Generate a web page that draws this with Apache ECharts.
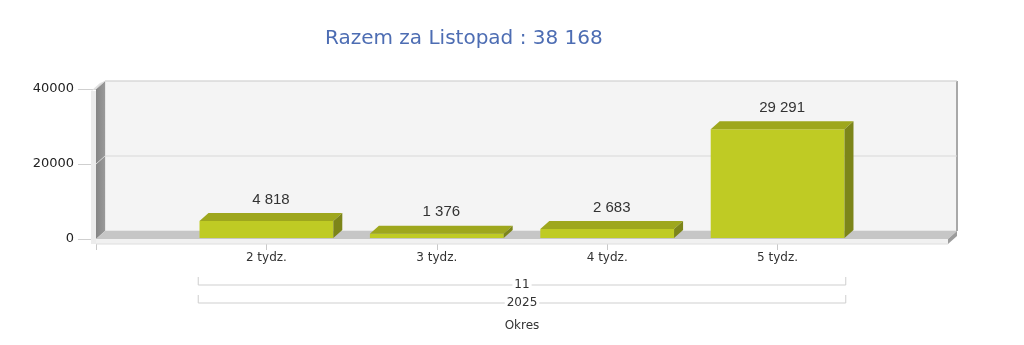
<!DOCTYPE html>
<html>
<head>
<meta charset="utf-8">
<script src="https://cdn.jsdelivr.net/npm/echarts@6/dist/echarts.min.js"></script>
<style>html,body{margin:0;padding:0;background:#fff}#c{width:1024px;height:345px}</style>
</head>
<body>
<div id="c"></div>
<script>
const titleText = 'Razem za Listopad : 38 168';
const categories = ['2 tydz.', '3 tydz.', '4 tydz.', '5 tydz.'];
const values = [4818, 1376, 2683, 29291];
const yMin = 0, yMax = 40000, yInterval = 20000;
const groupLevels = ['11', '2025'];
const axisTitle = 'Okres';

const DX = 9, DY = -8;
const xCats = [''].concat(categories, ['']);
const fmt = v => String(v).replace(/\B(?=(\d{3})+(?!\d))/g, ' ');
const gridTicks = [];
for (let v = yMin + yInterval; v <= yMax; v += yInterval) gridTicks.push(v);

const chart = echarts.init(document.getElementById('c'));

function renderFrame(params, api) {
  const p0 = api.coord([0, yMin]);
  const p5 = api.coord([xCats.length - 1, yMin]);
  const pt = api.coord([0, yMax]);
  const x0 = p0[0], x1 = p5[0], y0 = p0[1], yt = pt[1];
  const c = [];
  // back wall
  c.push({type: 'rect', shape: {x: x0 + DX, y: yt + DY, width: x1 - x0, height: y0 - yt},
    style: {fill: '#f4f4f4', stroke: '#dadada', lineWidth: 1}});
  c.push({type: 'line', shape: {x1: x1 + DX, y1: yt + DY, x2: x1 + DX, y2: y0 + DY},
    style: {stroke: '#a8a8a8', lineWidth: 2}});
  // left wall outer band
  c.push({type: 'polygon', shape: {points: [[x0 - 5, yt + 2], [x0 + DX - 5, yt + DY + 2], [x0 + DX, yt + DY], [x0, yt]]},
    style: {fill: '#e2e2e2'}});
  c.push({type: 'rect', shape: {x: x0 - 5, y: yt + 2, width: 5, height: y0 - yt + 3}, style: {fill: '#ececec'}});
  // left wall
  c.push({type: 'polygon', shape: {points: [[x0, yt], [x0 + DX, yt + DY], [x0 + DX, y0 + DY], [x0, y0]]},
    style: {fill: new echarts.graphic.LinearGradient(0, 0, 1, 0, [{offset: 0, color: '#858585'}, {offset: 1, color: '#999999'}])}});
  // grid lines
  gridTicks.forEach(v => {
    const y = api.coord([0, v])[1];
    c.push({type: 'polyline', shape: {points: [[x0, y], [x0 + DX, y + DY], [x1 + DX, y + DY]]},
      style: {stroke: '#d8d8d8', lineWidth: 1, fill: null}});
  });
  // floor
  c.push({type: 'polygon', shape: {points: [[x0, y0], [x1, y0], [x1 + DX, y0 + DY], [x0 + DX, y0 + DY]]},
    style: {fill: '#c6c6c6'}});
  c.push({type: 'rect', shape: {x: x0, y: y0, width: x1 - x0, height: 5}, style: {fill: '#f1f1f1'}});
  c.push({type: 'line', shape: {x1: x0, y1: y0 + 5, x2: x1, y2: y0 + 5}, style: {stroke: '#dedede', lineWidth: 1}});
  c.push({type: 'polygon', shape: {points: [[x1, y0], [x1 + DX, y0 + DY], [x1 + DX, y0 + DY + 5], [x1, y0 + 5]]},
    style: {fill: '#9c9c9c'}});
  // group brackets
  const c1 = api.coord([1, 0])[0], c2 = api.coord([2, 0])[0];
  const cN = api.coord([categories.length, 0])[0];
  const slot = c2 - c1;
  const bl = c1 - 0.4 * slot, br = cN + 0.4 * slot, bc = (bl + br) / 2;
  groupLevels.forEach((g, k) => {
    const yl = y0 + 46 + k * 18;
    c.push({type: 'polyline', shape: {points: [[bl, yl - 8], [bl, yl], [br, yl], [br, yl - 8]]},
      style: {stroke: '#cfcfcf', lineWidth: 1, fill: null}});
    c.push({type: 'text', style: {text: g, x: bc, y: yl, align: 'center', verticalAlign: 'middle',
      fill: '#333', font: '12px "DejaVu Sans"', backgroundColor: '#fff', padding: [0, 2]}});
  });
  c.push({type: 'text', style: {text: axisTitle, x: bc, y: y0 + 87, align: 'center', verticalAlign: 'middle',
    fill: '#333', font: '12px "DejaVu Sans"'}});
  return {type: 'group', children: c};
}

function renderBar(params, api) {
  const i = api.value(0), v = api.value(1);
  const b = api.coord([i, 0]), t = api.coord([i, v]);
  const slot = api.coord([2, 0])[0] - api.coord([1, 0])[0];
  const w = slot * 0.785;
  const xl = b[0] - w / 2, xr = b[0] + w / 2, by = b[1] - 1, ty = t[1];
  return {type: 'group', children: [
    {type: 'rect', shape: {x: xl, y: ty, width: w, height: by - ty}, style: {fill: '#bfcb24'}},
    {type: 'polygon', shape: {points: [[xl, ty], [xr, ty], [xr + DX, ty + DY], [xl + DX, ty + DY]]}, style: {fill: '#9ea71d'}},
    {type: 'polygon', shape: {points: [[xr, ty], [xr + DX, ty + DY], [xr + DX, by + DY], [xr, by]]}, style: {fill: '#7c8519'}},
    {type: 'text', style: {text: fmt(v), x: b[0] + DX / 2, y: ty + DY - 6, align: 'center', verticalAlign: 'bottom',
      fill: '#333', font: '15px "Liberation Sans"'}}
  ]};
}

chart.setOption({
  animation: false,
  title: {text: titleText, left: 320, top: 24,
    textStyle: {fontFamily: 'DejaVu Sans', fontSize: 20, fontWeight: 'normal', color: '#4d6db3'}},
  grid: {left: 96, right: 76, top: 89, bottom: 106, containLabel: false, outerBoundsMode: 'none'},
  xAxis: {type: 'category', data: xCats, boundaryGap: false,
    axisLine: {show: false},
    axisTick: {show: true, length: 11, interval: (idx) => idx < xCats.length - 1, lineStyle: {color: '#c8c8c8'}},
    axisLabel: {interval: 0, margin: 13, color: '#333', fontFamily: 'DejaVu Sans', fontSize: 12},
    splitLine: {show: false}},
  yAxis: {type: 'value', min: yMin, max: yMax, interval: yInterval,
    axisLine: {show: false},
    axisTick: {show: true, length: 18, lineStyle: {color: '#cfcfcf'}},
    axisLabel: {margin: 22, color: '#222', fontFamily: 'DejaVu Sans', fontSize: 13, formatter: v => String(v)},
    splitLine: {show: false}},
  series: [
    {type: 'custom', z: 1, silent: true, data: [[0, 0]], renderItem: renderFrame},
    {type: 'custom', z: 2, data: values.map((v, i) => [i + 1, v]), renderItem: renderBar}
  ]
});
</script>
</body>
</html>
